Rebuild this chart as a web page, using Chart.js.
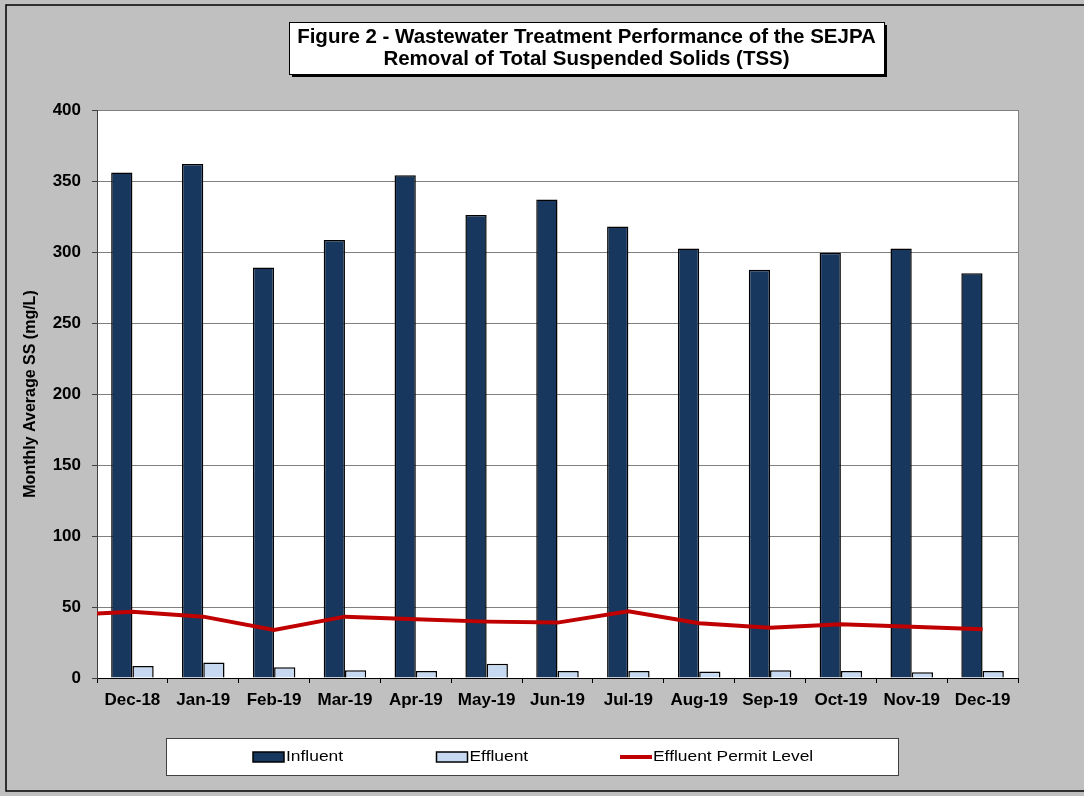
<!DOCTYPE html>
<html>
<head>
<meta charset="utf-8">
<title>Figure 2 - TSS Removal</title>
<script src="https://cdn.jsdelivr.net/npm/chart.js@4.4.1/dist/chart.umd.min.js"></script>
<style>
  html, body { margin: 0; padding: 0; background: #c0c0c0; }
  canvas { display: block; }
</style>
</head>
<body>
<canvas id="myChart" width="1084" height="796"></canvas>
<script>
const months = ['Dec-18', 'Jan-19', 'Feb-19', 'Mar-19', 'Apr-19', 'May-19', 'Jun-19',
  'Jul-19', 'Aug-19', 'Sep-19', 'Oct-19', 'Nov-19', 'Dec-19'];
const influent = [356, 362, 289, 308.5, 354, 326, 337, 318, 302.5, 287.5, 299.5, 302.5, 285];
const effluent = [8.5, 11, 7.5, 5.5, 5, 10, 5, 5, 4.5, 5.5, 5, 4, 5];
// first value is Nov-18, only its tail shows at the left edge of the plot
const permitLevel = [44.3, 46.7, 43.2, 33.8, 43.2, 41.3, 39.7, 39, 47, 38.5, 35.4, 37.8, 36.1, 34.3];
const yMin = 0, yMax = 400, yStep = 50;

const titleLines = ['Figure 2 - Wastewater Treatment Performance of the SEJPA',
  'Removal of Total Suspended Solids (TSS)'];
const yTitle = 'Monthly Average SS (mg/L)';

const FONT = "'Liberation Sans', Arial, sans-serif";

// background, outer frame, plot area, title box and legend box
const framePlugin = {
  id: 'frame',
  beforeDraw(chart) {
    const { ctx, chartArea: a } = chart;
    ctx.save();
    ctx.fillStyle = '#c0c0c0';
    ctx.fillRect(0, 0, chart.width, chart.height);
    ctx.strokeStyle = '#000';
    ctx.lineWidth = 1.5;
    ctx.strokeRect(6, 5, chart.width + 10, 786);
    ctx.fillStyle = '#fff';
    ctx.fillRect(a.left, a.top, a.right - a.left, a.bottom - a.top);
    ctx.strokeStyle = '#808080';
    ctx.lineWidth = 1;
    ctx.strokeRect(a.left + 0.5, a.top + 0.5, a.right - a.left, a.bottom - a.top);
    ctx.restore();
  },
  afterDraw(chart) {
    const { ctx } = chart;
    ctx.save();

    // title box with shadow
    const tb = { x: 289, y: 22, w: 595, h: 52 };
    ctx.fillStyle = '#000';
    ctx.fillRect(tb.x + 3, tb.y + 3, tb.w, tb.h);
    ctx.fillStyle = '#fff';
    ctx.fillRect(tb.x, tb.y, tb.w, tb.h);
    ctx.strokeStyle = '#000';
    ctx.lineWidth = 1;
    ctx.strokeRect(tb.x + 0.5, tb.y + 0.5, tb.w, tb.h);
    ctx.fillStyle = '#000';
    ctx.font = 'bold 20.5px ' + FONT;
    ctx.textAlign = 'center';
    ctx.textBaseline = 'middle';
    titleLines.forEach((t, i) => ctx.fillText(t, tb.x + tb.w / 2, 37.5 + i * 22));

    // legend box
    const lb = { x: 166, y: 738, w: 732, h: 37 };
    ctx.fillStyle = '#fff';
    ctx.fillRect(lb.x, lb.y, lb.w, lb.h);
    ctx.strokeStyle = '#404040';
    ctx.strokeRect(lb.x + 0.5, lb.y + 0.5, lb.w, lb.h);
    ctx.font = '15px ' + FONT;
    ctx.textAlign = 'left';
    const cy = 757;
    chart.data.datasets.forEach((ds, i) => {
      const x0 = 253 + i * 183.5;
      if (ds.type === 'line') {
        ctx.strokeStyle = ds.borderColor;
        ctx.lineWidth = 4;
        ctx.beginPath();
        ctx.moveTo(x0, cy);
        ctx.lineTo(x0 + 32, cy);
        ctx.stroke();
      } else {
        ctx.fillStyle = ds.backgroundColor;
        ctx.fillRect(x0, cy - 5, 31, 10);
        ctx.strokeStyle = '#000';
        ctx.lineWidth = 1.5;
        ctx.strokeRect(x0, cy - 5, 31, 10);
      }
      // slightly wide legend text, as in the original
      ctx.save();
      ctx.translate(x0 + 33, cy);
      ctx.scale(1.16, 1);
      ctx.fillStyle = '#000';
      ctx.fillText(ds.label, 0, 0);
      ctx.restore();
    });
    ctx.restore();
  }
};

const ctx = document.getElementById('myChart');
const myChart = new Chart(ctx, {
  data: {
    datasets: [{
      type: 'bar',
      label: 'Influent',
      data: influent.map((v, i) => ({ x: i, y: v })),
      backgroundColor: '#17375e',
      borderColor: '#000',
      borderWidth: 1.5,
      categoryPercentage: 0.6,
      barPercentage: 1,
      order: 1
    }, {
      type: 'bar',
      label: 'Effluent',
      data: effluent.map((v, i) => ({ x: i, y: v })),
      backgroundColor: '#c6d9f1',
      borderColor: '#000',
      borderWidth: 1.5,
      categoryPercentage: 0.6,
      barPercentage: 1,
      order: 1
    }, {
      type: 'line',
      label: 'Effluent Permit Level',
      data: permitLevel.map((v, i) => ({ x: i - 1, y: v })),
      borderColor: '#c00000',
      borderWidth: 4,
      pointRadius: 0,
      tension: 0,
      clip: 0,
      order: 0
    }]
  },
  options: {
    responsive: false,
    animation: false,
    events: [],
    layout: { padding: { top: 110, right: 66, bottom: 78, left: 0 } },
    scales: {
      x: {
        type: 'linear',
        offset: false,
        min: -0.5,
        max: months.length - 0.5,
        afterBuildTicks(s) { s.ticks = months.map((m, i) => ({ value: i })); },
        grid: { offset: true, drawOnChartArea: false, tickLength: 5, color: '#000' },
        border: { color: '#000' },
        ticks: {
          callback: v => months[v],
          color: '#000',
          font: { family: FONT, size: 17, weight: 'bold' },
          padding: 7,
          maxRotation: 0,
          autoSkip: false
        },
        afterFit(s) { s.height = 40; }
      },
      y: {
        min: yMin,
        max: yMax,
        ticks: { stepSize: yStep, color: '#000', font: { family: FONT, size: 17, weight: 'bold' }, padding: 11 },
        grid: { color: '#808080', tickColor: '#404040', tickLength: 5 },
        border: { color: '#404040' },
        title: {
          display: true,
          text: yTitle,
          color: '#000',
          font: { family: FONT, size: 16, weight: 'bold' },
          padding: { top: 21, bottom: 0 }
        },
        afterFit(s) { s.width = 97; }
      }
    },
    plugins: {
      legend: { display: false },
      title: { display: false },
      tooltip: { enabled: false }
    }
  },
  plugins: [framePlugin]
});
</script>
</body>
</html>
